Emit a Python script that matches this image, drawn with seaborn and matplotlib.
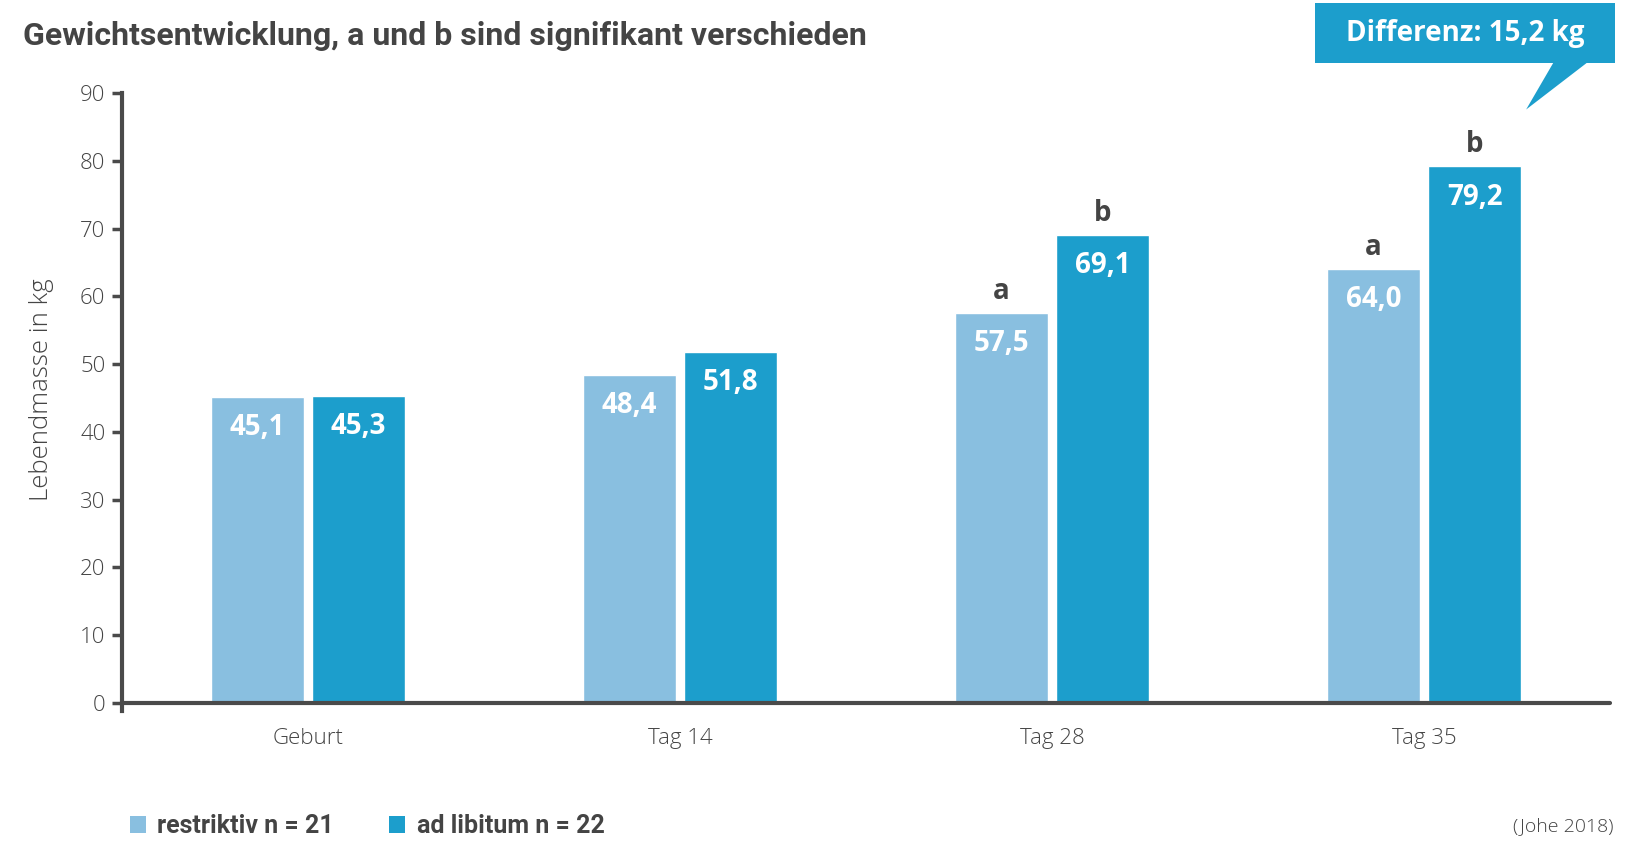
import numpy as np
import pandas as pd
import matplotlib
matplotlib.use('Agg')
import matplotlib.pyplot as plt
import seaborn as sns
from matplotlib.patches import Patch, Polygon, Rectangle

# data
zeitpunkte = ['Geburt', 'Tag 14', 'Tag 28', 'Tag 35']
gruppen = ['restriktiv n = 21', 'ad libitum n = 22']
restriktiv = [45.1, 48.4, 57.5, 64.0]
ad_libitum = [45.3, 51.8, 69.1, 79.2]
sig_restriktiv = ['', '', 'a', 'a']
sig_ad_libitum = ['', '', 'b', 'b']
y_ticks = [0, 10, 20, 30, 40, 50, 60, 70, 80, 90]

df = pd.DataFrame({
    'Zeitpunkt': zeitpunkte * 2,
    'Gruppe': [gruppen[0]] * 4 + [gruppen[1]] * 4,
    'Lebendmasse': restriktiv + ad_libitum,
})

hell = '#89bfe0'
dunkel = '#1c9ecc'
grau = '#444444'
achse = '#4a4a4a'

sns.set_style('white')
plt.rcParams['font.family'] = ['Open Sans', 'DejaVu Sans']
narrow = ['Roboto', 'DejaVu Sans']

fig = plt.figure(figsize=(16.27, 8.49), dpi=100)
ax = fig.add_axes([0.075, 0.1625, 0.9146, 0.7275])

sns.barplot(data=df, x='Zeitpunkt', y='Lebendmasse', hue='Gruppe',
            order=zeitpunkte, hue_order=gruppen,
            palette=[hell, dunkel], width=0.544, gap=0.08,
            saturation=1, legend=False, ax=ax)

ax.set_xlim(-0.5, 3.5)
ax.set_ylim(-1.25, 90)
ax.set_yticks(y_ticks)
ax.set_yticklabels([str(t) for t in y_ticks])
for s in ['top', 'right', 'bottom']:
    ax.spines[s].set_visible(False)
ax.spines['left'].set_color(achse)
ax.spines['left'].set_linewidth(3)
ax.axhline(0, color=achse, lw=3, zorder=5, clip_on=False)

ax.tick_params(axis='y', length=7, width=2.5, color=achse, labelsize=16,
               labelcolor=grau, pad=5, left=True)
ax.tick_params(axis='x', length=0, labelsize=16, labelcolor=grau, pad=12)
for lab in ax.get_yticklabels() + ax.get_xticklabels():
    lab.set_fontweight('light')
ax.set_xlabel('')
ax.set_ylabel('Lebendmasse in kg', fontsize=18.5, color=grau,
              fontweight='light')
ax.yaxis.set_label_coords(-0.046, 0.52)

# value labels and significance letters
for cont, sigs in zip(ax.containers, [sig_restriktiv, sig_ad_libitum]):
    for bar, sig in zip(cont, sigs):
        x = bar.get_x() + bar.get_width() / 2
        h = bar.get_height()
        ax.annotate(f'{h:.1f}'.replace('.', ','), (x, h), xytext=(0, -22),
                    textcoords='offset points', ha='center', va='center',
                    color='white', fontsize=20, fontweight='bold')
        if sig:
            ax.annotate(sig, (x, h), xytext=(0, 15.5), textcoords='offset points',
                        ha='center', va='center', color=grau, fontsize=20,
                        fontweight='bold', annotation_clip=False)

# title
fig.text(0.014, 0.958, 'Gewichtsentwicklung, a und b sind signifikant verschieden',
         fontsize=23, fontweight='bold', color=grau, va='center', ha='left',
         family=narrow)

# callout box
box_l, box_r, box_b, box_t = 0.808, 0.9926, 0.926, 0.996
fig.patches.append(Rectangle((box_l, box_b), box_r - box_l, box_t - box_b,
                             transform=fig.transFigure, color=dunkel, lw=0))
fig.patches.append(Polygon([[0.955, box_b + 0.001], [0.976, box_b + 0.001], [0.938, 0.871]],
                           closed=True, transform=fig.transFigure, color=dunkel, lw=0))
fig.text((box_l + box_r) / 2, (box_b + box_t) / 2, 'Differenz: 15,2 kg',
         fontsize=20, fontweight='bold', color='white', ha='center', va='center')

# legend
handles = [Patch(facecolor=hell, edgecolor='none'), Patch(facecolor=dunkel, edgecolor='none')]
leg = fig.legend(handles, gruppen, loc='center left', bbox_to_anchor=(0.066, 0.027),
                 ncol=2, frameon=False, handlelength=0.65, handleheight=0.7,
                 handletextpad=0.45, columnspacing=2.2,
                 prop={'family': narrow, 'weight': 'bold', 'size': 18})
for t in leg.get_texts():
    t.set_color(grau)

fig.text(0.9915, 0.027, '(Johe 2018)', fontsize=14, color=grau, ha='right',
         va='center', fontweight='light')

fig.savefig('out.png', dpi=100)
